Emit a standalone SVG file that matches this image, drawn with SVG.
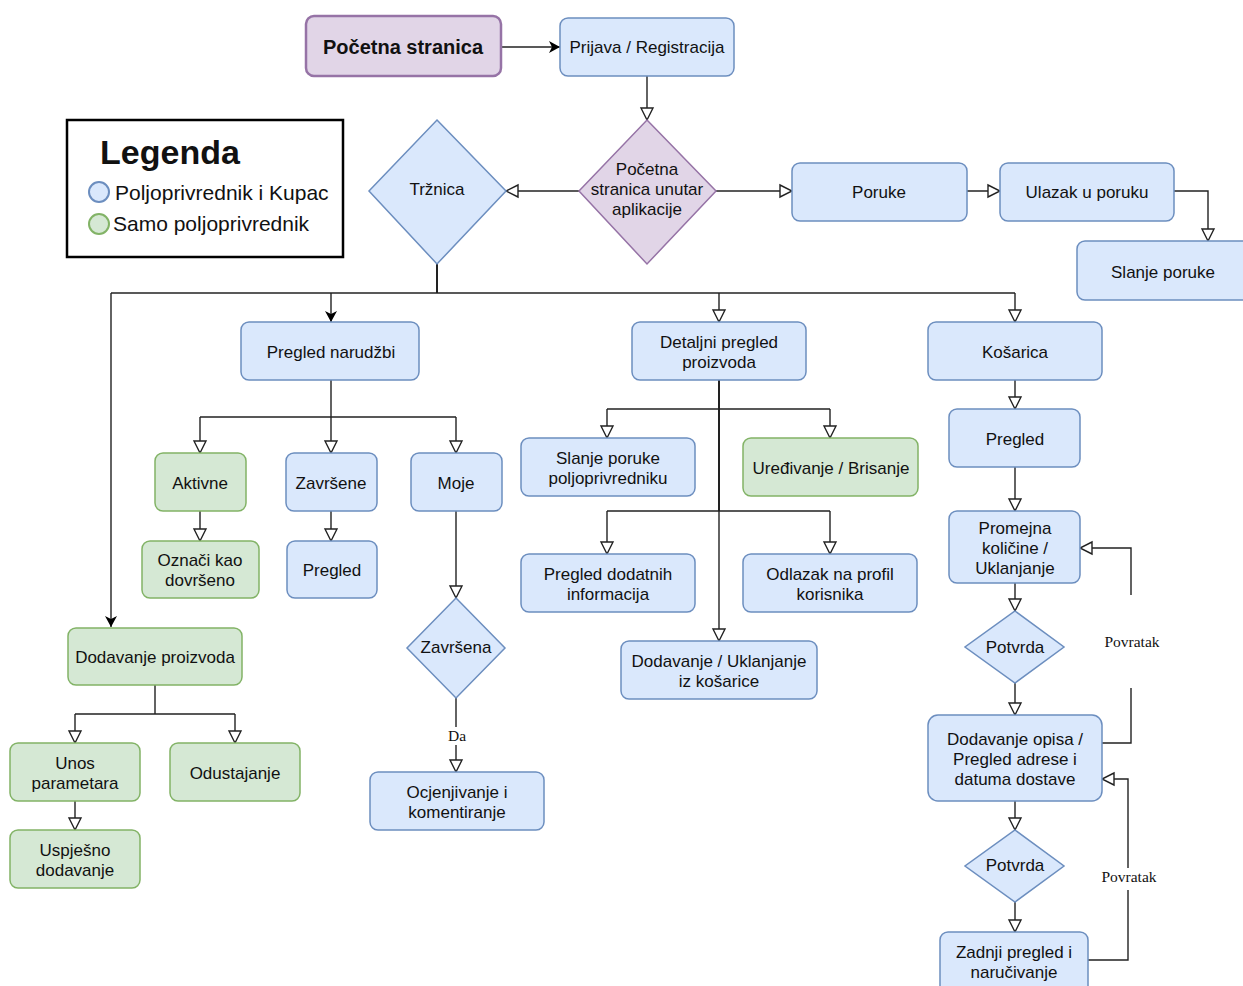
<svg xmlns="http://www.w3.org/2000/svg" width="1243" height="986" viewBox="0 0 1243 986">
<style>
.b{fill:#dae8fc;stroke:#6c8ebf;stroke-width:1.5}
.g{fill:#d5e8d4;stroke:#82b366;stroke-width:1.5}
.p{fill:#e1d5e7;stroke:#9673a6;stroke-width:1.5}
text{font-family:"Liberation Sans",Arial,sans-serif;font-size:17px;fill:#111;text-anchor:middle}
.c{fill:none;stroke:#222;stroke-width:1.4}
.o{marker-end:url(#open)}
.f{marker-end:url(#fill)}
.lbl{font-family:"Liberation Serif","Times New Roman",serif;font-size:15.5px}
</style>
<defs>
<marker id="open" markerUnits="userSpaceOnUse" markerWidth="16" markerHeight="16" refX="13" refY="7" orient="auto" overflow="visible">
<path d="M1,1 L13,7 L1,13 Z" fill="#fff" stroke="#222" stroke-width="1.4"/>
</marker>
<marker id="fill" markerUnits="userSpaceOnUse" markerWidth="14" markerHeight="14" refX="11" refY="6" orient="auto" overflow="visible">
<path d="M0,0 L11,6 L0,12 L3,6 Z" fill="#000"/>
</marker>
</defs>
<rect width="1243" height="986" fill="#fff"/>

<g id="connectors">
<path class="c f" d="M501,47 L560,47"/>
<path class="c o" d="M647,76 L647,120"/>
<path class="c o" d="M579,191 L506,191"/>
<path class="c o" d="M716,191 L792,191"/>
<path class="c o" d="M967,191 L1000,191"/>
<path class="c o" d="M1174,191 L1208,191 L1208,241"/>
<path class="c" style="stroke-width:2" d="M437,264 L437,293"/>
<path class="c" d="M111,293 L1015,293"/>
<path class="c f" d="M111,293 L111,627"/>
<path class="c f" d="M331,293 L331,322"/>
<path class="c o" d="M719,293 L719,322"/>
<path class="c o" d="M1015,293 L1015,322"/>
<path class="c" d="M331,380 L331,417 M200,417 L456,417"/>
<path class="c o" d="M200,417 L200,453"/>
<path class="c o" d="M331,417 L331,453"/>
<path class="c o" d="M456,417 L456,453"/>
<path class="c o" d="M200,511 L200,541"/>
<path class="c o" d="M331,511 L331,541"/>
<path class="c o" d="M456,511 L456,598"/>
<path class="c" d="M456,698 L456,727"/>
<path class="c o" d="M456,745 L456,772"/>
<text class="lbl" x="457" y="741">Da</text>
<path class="c" style="stroke-width:2" d="M719,380 L719,511"/>
<path class="c o" d="M719,511 L719,641"/>
<path class="c" d="M607,409 L830,409 M607,511 L830,511"/>
<path class="c o" d="M607,409 L607,438"/>
<path class="c o" d="M830,409 L830,438"/>
<path class="c o" d="M607,511 L607,554"/>
<path class="c o" d="M830,511 L830,554"/>
<path class="c o" d="M1015,380 L1015,409"/>
<path class="c o" d="M1015,467 L1015,511"/>
<path class="c o" d="M1015,583 L1015,611"/>
<path class="c o" d="M1015,683 L1015,715"/>
<path class="c o" d="M1015,801 L1015,830"/>
<path class="c o" d="M1015,902 L1015,932"/>
<path class="c" d="M1102,743 L1131,743 L1131,688"/>
<path class="c o" d="M1131,595 L1131,548 L1080,548"/>
<text class="lbl" x="1132" y="647">Povratak</text>
<path class="c" d="M1088,960 L1128,960 L1128,890"/>
<path class="c o" d="M1128,868 L1128,779 L1102,779"/>
<text class="lbl" x="1129" y="882">Povratak</text>
<path class="c" d="M155,685 L155,714 M75,714 L235,714"/>
<path class="c o" d="M75,714 L75,743"/>
<path class="c o" d="M235,714 L235,743"/>
<path class="c o" d="M75,801 L75,830"/>
</g>

<g id="legend">
<rect x="67" y="120" width="276" height="137" fill="#fff" stroke="#000" stroke-width="2.5"/>
<text x="170" y="164" style="font-size:34px;font-weight:bold">Legenda</text>
<circle cx="99" cy="192" r="10" fill="#dae8fc" stroke="#6c8ebf" stroke-width="2"/>
<text x="115" y="200" style="font-size:21px;text-anchor:start">Poljoprivrednik i Kupac</text>
<circle cx="99" cy="224" r="10" fill="#d5e8d4" stroke="#82b366" stroke-width="2"/>
<text x="113" y="231" style="font-size:21px;text-anchor:start">Samo poljoprivrednik</text>
</g>

<g id="pocetna"><rect class="p" style="stroke-width:2.5" x="306" y="16" width="195" height="60" rx="8"/><text x="403" y="54" style="font-size:20px;font-weight:bold">Početna stranica</text></g>
<g id="prijava"><rect class="b" x="560" y="18" width="174" height="58" rx="8"/><text x="647" y="53">Prijava / Registracija</text></g>
<g id="pocetna-app"><path class="p" d="M647,120 L716,191 L647,264 L579,191 Z"/><text x="647" y="175">Početna</text><text x="647" y="195">stranica unutar</text><text x="647" y="215">aplikacije</text></g>
<g id="trznica"><path class="b" d="M437,120 L506,191 L437,264 L369,191 Z"/><text x="437" y="195">Tržnica</text></g>
<g id="poruke"><rect class="b" x="792" y="163" width="175" height="58" rx="8"/><text x="879" y="198">Poruke</text></g>
<g id="ulazak"><rect class="b" x="1000" y="163" width="174" height="58" rx="8"/><text x="1087" y="198">Ulazak u poruku</text></g>
<g id="slanje-poruke"><rect class="b" x="1077" y="241" width="180" height="59" rx="8"/><text x="1163" y="278">Slanje poruke</text></g>

<g id="pregled-narudzbi"><rect class="b" x="241" y="322" width="178" height="58" rx="8"/><text x="331" y="358">Pregled narudžbi</text></g>
<g id="aktivne"><rect class="g" x="155" y="453" width="91" height="58" rx="8"/><text x="200" y="489">Aktivne</text></g>
<g id="zavrsene"><rect class="b" x="286" y="453" width="91" height="58" rx="8"/><text x="331" y="489">Završene</text></g>
<g id="moje"><rect class="b" x="411" y="453" width="91" height="58" rx="8"/><text x="456" y="489">Moje</text></g>
<g id="oznaci"><rect class="g" x="142" y="541" width="117" height="57" rx="8"/><text x="200" y="566">Označi kao</text><text x="200" y="586">dovršeno</text></g>
<g id="pregled-z"><rect class="b" x="287" y="541" width="90" height="57" rx="8"/><text x="332" y="576">Pregled</text></g>
<g id="zavrsena"><path class="b" d="M456,598 L505,648 L456,698 L407,648 Z"/><text x="456" y="653">Završena</text></g>
<g id="ocjenjivanje"><rect class="b" x="370" y="772" width="174" height="58" rx="8"/><text x="457" y="798">Ocjenjivanje i</text><text x="457" y="818">komentiranje</text></g>

<g id="detaljni"><rect class="b" x="632" y="322" width="174" height="58" rx="8"/><text x="719" y="348">Detaljni pregled</text><text x="719" y="368">proizvoda</text></g>
<g id="slanje-poljo"><rect class="b" x="521" y="438" width="174" height="58" rx="8"/><text x="608" y="464">Slanje poruke</text><text x="608" y="484">poljoprivredniku</text></g>
<g id="uredivanje"><rect class="g" x="743" y="438" width="175" height="58" rx="8"/><text x="831" y="474">Uređivanje / Brisanje</text></g>
<g id="pregled-dodatnih"><rect class="b" x="521" y="554" width="174" height="58" rx="8"/><text x="608" y="580">Pregled dodatnih</text><text x="608" y="600">informacija</text></g>
<g id="odlazak"><rect class="b" x="743" y="554" width="174" height="58" rx="8"/><text x="830" y="580">Odlazak na profil</text><text x="830" y="600">korisnika</text></g>
<g id="dodavanje-kosarica"><rect class="b" x="621" y="641" width="196" height="58" rx="8"/><text x="719" y="667">Dodavanje / Uklanjanje</text><text x="719" y="687">iz košarice</text></g>

<g id="kosarica"><rect class="b" x="928" y="322" width="174" height="58" rx="8"/><text x="1015" y="358">Košarica</text></g>
<g id="pregled-k"><rect class="b" x="949" y="409" width="131" height="58" rx="8"/><text x="1015" y="445">Pregled</text></g>
<g id="promjena"><rect class="b" x="949" y="511" width="131" height="72" rx="8"/><text x="1015" y="534">Promejna</text><text x="1015" y="554">količine /</text><text x="1015" y="574">Uklanjanje</text></g>
<g id="potvrda1"><path class="b" d="M1015,611 L1064,647 L1015,683 L965,647 Z"/><text x="1015" y="653">Potvrda</text></g>
<g id="dodavanje-opisa"><rect class="b" x="928" y="715" width="174" height="86" rx="10"/><text x="1015" y="745">Dodavanje opisa /</text><text x="1015" y="765">Pregled adrese i</text><text x="1015" y="785">datuma dostave</text></g>
<g id="potvrda2"><path class="b" d="M1015,830 L1064,866 L1015,902 L965,866 Z"/><text x="1015" y="871">Potvrda</text></g>
<g id="zadnji"><rect class="b" x="940" y="932" width="148" height="62" rx="8"/><text x="1014" y="958">Zadnji pregled i</text><text x="1014" y="978">naručivanje</text></g>

<g id="dodavanje-proizvoda"><rect class="g" x="68" y="628" width="174" height="57" rx="8"/><text x="155" y="663">Dodavanje proizvoda</text></g>
<g id="unos"><rect class="g" x="10" y="743" width="130" height="58" rx="8"/><text x="75" y="769">Unos</text><text x="75" y="789">parametara</text></g>
<g id="odustajanje"><rect class="g" x="170" y="743" width="130" height="58" rx="8"/><text x="235" y="779">Odustajanje</text></g>
<g id="uspjesno"><rect class="g" x="10" y="830" width="130" height="58" rx="8"/><text x="75" y="856">Uspješno</text><text x="75" y="876">dodavanje</text></g>
</svg>
